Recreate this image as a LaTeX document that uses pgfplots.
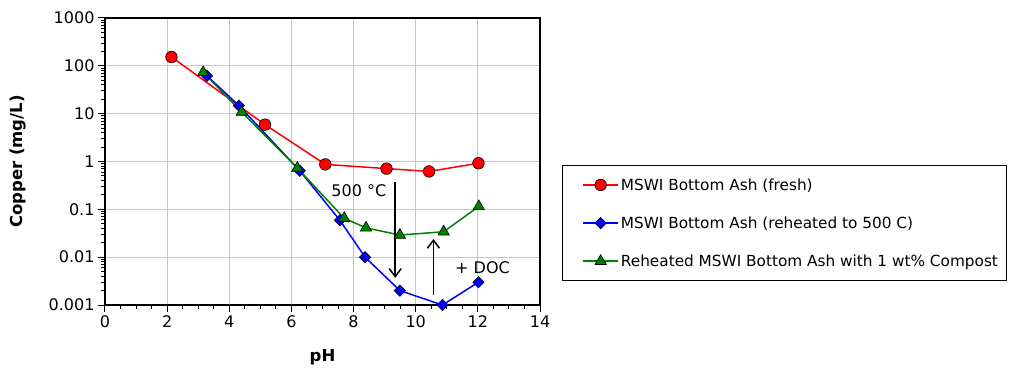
\documentclass[border=0pt]{standalone}
\usepackage{pgfplots}
\pgfplotsset{compat=1.18}
\usepackage{fontspec}
\setmainfont{DejaVu Sans}
\usetikzlibrary{arrows.meta}
\definecolor{mygreen}{RGB}{0,128,0}
\begin{document}
\begin{tikzpicture}[x=1pt,y=1pt]
\path[use as bounding box] (0,0) rectangle (1011,369);
\begin{axis}[
  at={(105pt,64pt)}, anchor=south west,
  scale only axis, width=435pt, height=287pt,
  xmin=0, xmax=14, ymode=log, ymin=0.001, ymax=1000,
  xtick={0,2,4,6,8,10,12,14},
  minor xtick={0.5,1,1.5,2.5,3,3.5,4.5,5,5.5,6.5,7,7.5,8.5,9,9.5,10.5,11,11.5,12.5,13,13.5},
  ytick={0.001,0.01,0.1,1,10,100,1000},
  yticklabels={0.001,0.01,0.1,1,10,100,1000},
  minor ytick={0.002,0.003,0.004,0.005,0.006,0.007,0.008,0.009,
               0.02,0.03,0.04,0.05,0.06,0.07,0.08,0.09,
               0.2,0.3,0.4,0.5,0.6,0.7,0.8,0.9,
               2,3,4,5,6,7,8,9,20,30,40,50,60,70,80,90,
               200,300,400,500,600,700,800,900},
  xtick pos=bottom, ytick pos=left,
  tick align=outside,
  major tick length=7pt, minor tick length=4pt,
  tick style={black, line width=1pt},
  grid=major, major grid style={black!22, line width=1pt},
  axis line style={black, line width=1.5pt},
  /pgf/number format/assume math mode=true,
  tick label style={font=\fontsize{16}{19}\selectfont},
  xlabel={\textbf{pH}}, ylabel={\textbf{Copper (mg/L)}},
  label style={font=\fontsize{16.5}{19}\selectfont},
  xlabel style={at={(axis description cs:0.5,-0.181)}, anchor=center},
  ylabel style={at={(axis description cs:-0.2,0.5)}, anchor=center},
  legend cell align=left,
  legend image code/.code={\path (0pt,0pt); \draw[mark repeat=2,mark phase=2,#1] plot coordinates {(14pt,0pt) (31.5pt,0pt) (49pt,0pt)};},
  legend style={at={(1.0506,0.4878)}, anchor=north west, draw=black, line width=0.8pt,
    font=\fontsize{15.3}{18}\selectfont, row sep=21pt, inner xsep=6pt, inner ysep=11pt},
]
\addplot[red, line width=1.5pt, mark=*, mark size=5.8pt, mark options={fill=red, draw=black, line width=0.6pt}]
  coordinates {(2.14,153) (5.15,5.9) (7.09,0.87) (9.06,0.71) (10.43,0.62) (12.02,0.92)};
\addlegendentry{MSWI Bottom Ash (fresh)}
\addplot[blue, line width=1.5pt, mark=square*, mark size=4pt, mark options={rotate=45, fill=blue, draw=black, line width=0.6pt}]
  coordinates {(3.28,62) (4.31,14.7) (6.27,0.64) (7.56,0.059) (8.37,0.01) (9.49,0.002) (10.86,0.001) (12.02,0.003)};
\addlegendentry{MSWI Bottom Ash (reheated to 500 C)}
\addplot[mygreen, line width=1.5pt, mark=triangle*, mark size=6.5pt, mark options={fill=mygreen, draw=black, line width=0.6pt}]
  coordinates {(3.16,73) (4.40,10.8) (6.19,0.73) (7.70,0.065) (8.40,0.041) (9.49,0.029) (10.90,0.034) (12.03,0.115)};
\addlegendentry{Reheated MSWI Bottom Ash with 1 wt\% Compost}
\draw[-{Straight Barb[length=8pt,width=12pt]}, line width=1.5pt] (axis cs:9.34,0.37) -- (axis cs:9.34,0.0037);
\draw[-{Straight Barb[length=8pt,width=12pt]}, line width=1.5pt] (axis cs:10.57,0.0016) -- (axis cs:10.57,0.024);
\node[font=\fontsize{16}{19}\selectfont] at (axis cs:8.17,0.24) {500 °C};
\node[font=\fontsize{16}{19}\selectfont] at (axis cs:12.15,0.0059) {+ DOC};
\end{axis}
\end{tikzpicture}
\end{document}
